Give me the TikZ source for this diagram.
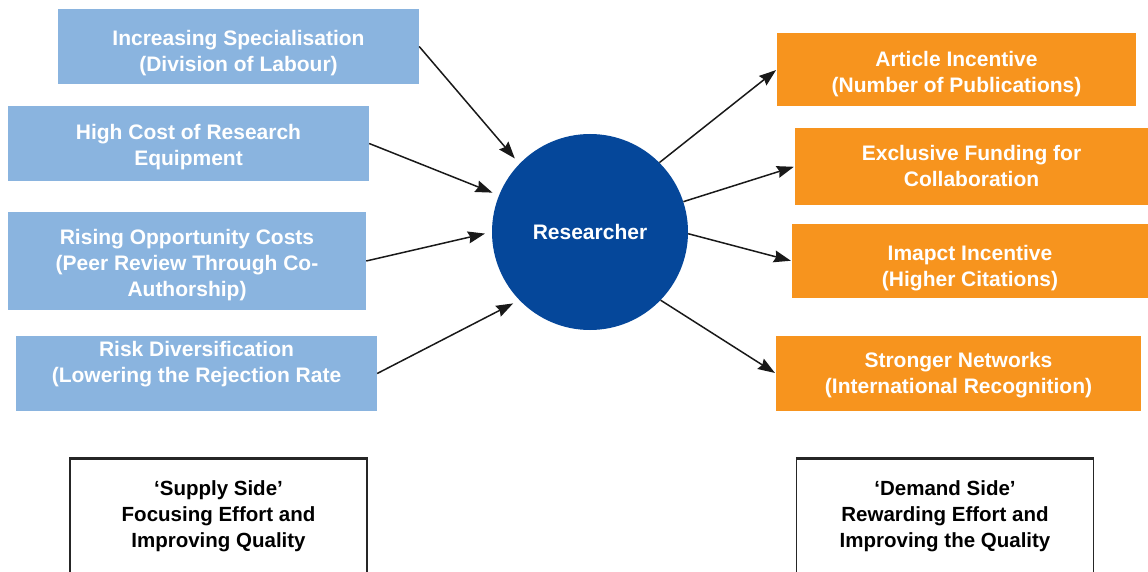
\documentclass[tikz,border=0pt]{standalone}
\usepackage{fontspec}
\setmainfont{Liberation Sans}
\usetikzlibrary{arrows.meta,positioning}
\definecolor{supplyblue}{HTML}{8AB4DF}
\definecolor{demandorange}{HTML}{F7941E}
\definecolor{researcherblue}{HTML}{05479A}

\begin{document}
\begin{tikzpicture}[x=1pt,y=-1pt,
  boxfont/.style={font=\fontsize{21}{26}\selectfont\bfseries},
  textdrop/.style={text height=#1,text depth=0pt},
  supply/.style={boxfont,fill=supplyblue,text=white,align=center,
    minimum width=361,minimum height=75,inner sep=0pt},
  demand/.style={boxfont,fill=demandorange,text=white,align=center,
    minimum height=75,inner sep=0pt},
  sideframe/.style={draw=black!85,line width=1.5,minimum width=297,
    minimum height=160,anchor=north},
  sidetext/.style={font=\fontsize{20.5}{26}\selectfont\bfseries,text=black,align=center},
  link/.style={-{Stealth[length=17pt,width=12pt,inset=2pt]},line width=1.5,
    black!90}]
\useasboundingbox (0,0) rectangle (1148,572);
\clip (0,0) rectangle (1148,572);

% supply side
\node[supply,textdrop=51] (spec) at (238.5,46.5) {Increasing Specialisation\\(Division of Labour)};
\node[supply,textdrop=45] (cost) at (188.5,143.5) {High Cost of Research\\Equipment};
\node[supply,textdrop=70,minimum width=358,minimum height=98] (opp) at (187,261)
  {Rising Opportunity Costs\\(Peer Review Through Co-\\Authorship)};
\node[supply,textdrop=70] (risk) at (196.5,373.5) {Risk Diversification\\(Lowering the Rejection Rate\\\mbox{}};

% researcher
\node[circle,fill=researcherblue,text=white,boxfont,minimum size=196,inner sep=0pt]
  (res) at (590,232) {Researcher};

% demand side
\node[demand,textdrop=47,minimum width=359,minimum height=73] (art) at (956.5,69.5)
  {Article Incentive\\(Number of Publications)};
\node[demand,textdrop=41,minimum width=353,minimum height=77] (fund) at (971.5,166.5)
  {Exclusive Funding for\\Collaboration};
\node[demand,textdrop=51,minimum width=356,minimum height=74] (imp) at (970,261)
  {Imapct Incentive\\(Higher Citations)};
\node[demand,textdrop=39,minimum width=365] (net) at (958.5,373.5)
  {Stronger Networks\\(International Recognition)};

% arrows
\foreach \src/\ang in {spec/136,cost/158,opp/180,risk/224}
  \draw[link,shorten >=7pt] (\src.east) -- (res.\ang);
\foreach \dst/\ang in {art/45,fund/18,imp/-1,net/-44}
  \draw[link,shorten >=1pt] (res.\ang) -- (\dst.west);

% bottom boxes
\node[sideframe] (supplybox) at (218.5,458) {};
\node[sideframe] (demandbox) at (945,458) {};
\draw[line width=2.5,black!85] (supplybox.north west) -- (supplybox.north east);
\draw[line width=2.5,black!85] (demandbox.north west) -- (demandbox.north east);
\node[sidetext] (supplytxt) at ([yshift=-58]supplybox.north)
  {‘Supply Side’\\Focusing Effort and\\Improving Quality};
\node[sidetext] (demandtxt) at ([yshift=-58]demandbox.north)
  {‘Demand Side’\\Rewarding Effort and\\Improving the Quality};
\end{tikzpicture}
\end{document}
